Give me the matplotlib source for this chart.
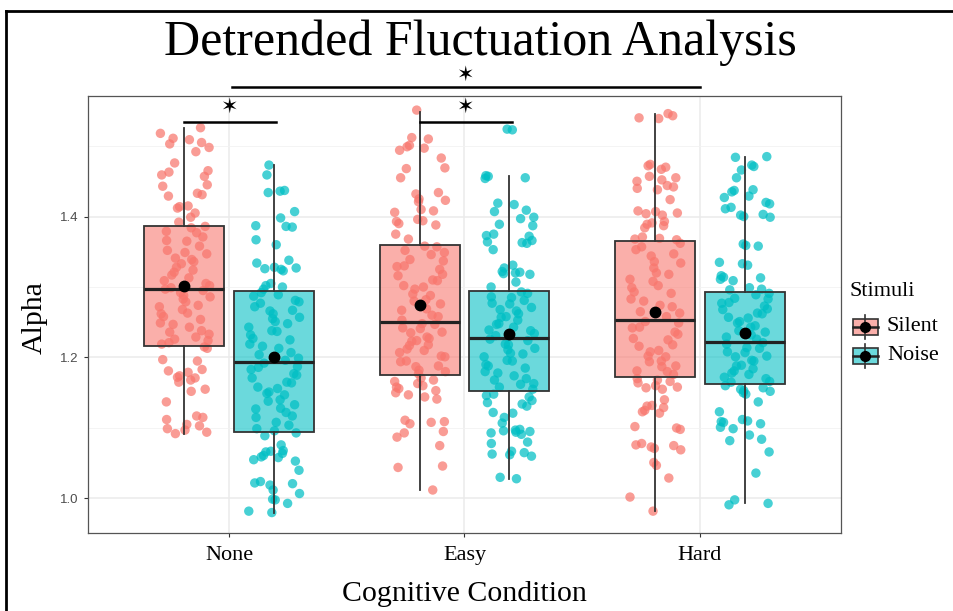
import matplotlib
matplotlib.use("Agg")
import matplotlib.pyplot as plt
from matplotlib.colors import to_rgba
from matplotlib.patches import Rectangle
import numpy as np

# ---- data ----
conditions = ["None", "Easy", "Hard"]
stimuli = ["Silent", "Noise"]
colors = {"Silent": "#F8766D", "Noise": "#00BFC4"}

none_silent = [1.526, 1.518, 1.511, 1.509, 1.505, 1.503, 1.498, 1.492, 1.476, 1.465, 1.463, 1.459,
               1.457, 1.445, 1.443, 1.433, 1.431, 1.429, 1.415, 1.414, 1.412, 1.405, 1.399, 1.392,
               1.386, 1.384, 1.379, 1.377, 1.371, 1.366, 1.365, 1.358, 1.352, 1.349, 1.347, 1.341,
               1.339, 1.336, 1.333, 1.328, 1.324, 1.321, 1.317, 1.313, 1.309, 1.305, 1.302, 1.299,
               1.297, 1.295, 1.292, 1.288, 1.286, 1.283, 1.279, 1.274, 1.272, 1.268, 1.263, 1.262,
               1.258, 1.254, 1.249, 1.247, 1.243, 1.238, 1.236, 1.233, 1.229, 1.226, 1.224, 1.221,
               1.219, 1.215, 1.213, 1.197, 1.195, 1.183, 1.181, 1.179, 1.174, 1.172, 1.171, 1.168,
               1.165, 1.155, 1.152, 1.137, 1.117, 1.115, 1.112, 1.105, 1.103, 1.099, 1.097, 1.094,
               1.092]
none_noise = [1.473, 1.459, 1.437, 1.436, 1.434, 1.407, 1.398, 1.387, 1.386, 1.385, 1.367, 1.360,
              1.338, 1.334, 1.328, 1.327, 1.326, 1.325, 1.323, 1.305, 1.302, 1.300, 1.297, 1.292,
              1.289, 1.287, 1.281, 1.279, 1.277, 1.272, 1.267, 1.266, 1.262, 1.257, 1.255, 1.251,
              1.248, 1.243, 1.238, 1.237, 1.232, 1.227, 1.225, 1.219, 1.216, 1.213, 1.207, 1.204,
              1.199, 1.196, 1.192, 1.187, 1.186, 1.183, 1.177, 1.175, 1.171, 1.165, 1.164, 1.158,
              1.156, 1.151, 1.149, 1.147, 1.140, 1.138, 1.133, 1.128, 1.127, 1.122, 1.117, 1.115,
              1.108, 1.104, 1.099, 1.096, 1.093, 1.089, 1.076, 1.068, 1.067, 1.066, 1.064, 1.061,
              1.059, 1.058, 1.055, 1.053, 1.040, 1.024, 1.022, 1.021, 1.019, 1.012, 1.007, 0.999,
              0.998, 0.993, 0.982, 0.980]
easy_silent = [1.551, 1.512, 1.510, 1.501, 1.499, 1.497, 1.494, 1.483, 1.469, 1.468, 1.455, 1.434,
               1.432, 1.425, 1.423, 1.421, 1.410, 1.408, 1.406, 1.396, 1.394, 1.393, 1.390, 1.388,
               1.375, 1.368, 1.358, 1.357, 1.352, 1.349, 1.346, 1.339, 1.337, 1.330, 1.329, 1.325,
               1.318, 1.316, 1.310, 1.309, 1.302, 1.300, 1.297, 1.290, 1.288, 1.282, 1.280, 1.276,
               1.269, 1.267, 1.260, 1.258, 1.253, 1.248, 1.247, 1.242, 1.241, 1.236, 1.235, 1.229,
               1.227, 1.224, 1.223, 1.218, 1.217, 1.212, 1.210, 1.207, 1.202, 1.201, 1.195, 1.194,
               1.188, 1.187, 1.182, 1.180, 1.177, 1.171, 1.168, 1.166, 1.163, 1.160, 1.158, 1.156,
               1.153, 1.150, 1.147, 1.144, 1.141, 1.111, 1.109, 1.108, 1.106, 1.095, 1.093, 1.087,
               1.075, 1.046, 1.044, 1.012]
easy_noise = [1.524, 1.523, 1.458, 1.457, 1.455, 1.454, 1.419, 1.417, 1.409, 1.407, 1.399, 1.397,
              1.389, 1.387, 1.375, 1.373, 1.372, 1.366, 1.364, 1.363, 1.362, 1.353, 1.331, 1.327,
              1.322, 1.321, 1.320, 1.319, 1.318, 1.307, 1.300, 1.293, 1.291, 1.286, 1.285, 1.281,
              1.277, 1.276, 1.271, 1.268, 1.266, 1.262, 1.258, 1.257, 1.253, 1.248, 1.247, 1.243,
              1.239, 1.238, 1.234, 1.231, 1.226, 1.224, 1.219, 1.218, 1.213, 1.211, 1.206, 1.205,
              1.201, 1.196, 1.195, 1.190, 1.188, 1.185, 1.180, 1.178, 1.174, 1.170, 1.168, 1.163,
              1.162, 1.158, 1.155, 1.148, 1.146, 1.144, 1.139, 1.136, 1.134, 1.131, 1.122, 1.121,
              1.115, 1.107, 1.098, 1.097, 1.096, 1.095, 1.094, 1.093, 1.091, 1.080, 1.078, 1.067,
              1.065, 1.063, 1.062, 1.060, 1.030, 1.028]
hard_silent = [1.546, 1.543, 1.540, 1.539, 1.474, 1.472, 1.470, 1.467, 1.457, 1.455, 1.452, 1.450,
               1.444, 1.442, 1.440, 1.438, 1.424, 1.408, 1.407, 1.405, 1.404, 1.402, 1.393, 1.391,
               1.389, 1.387, 1.384, 1.371, 1.369, 1.368, 1.367, 1.362, 1.357, 1.353, 1.347, 1.344,
               1.336, 1.334, 1.327, 1.320, 1.318, 1.311, 1.308, 1.302, 1.299, 1.293, 1.291, 1.283,
               1.280, 1.274, 1.272, 1.265, 1.263, 1.258, 1.251, 1.249, 1.243, 1.242, 1.236, 1.233,
               1.227, 1.225, 1.218, 1.216, 1.210, 1.208, 1.202, 1.201, 1.195, 1.194, 1.188, 1.187,
               1.181, 1.180, 1.176, 1.170, 1.168, 1.166, 1.164, 1.160, 1.158, 1.157, 1.155, 1.140,
               1.132, 1.131, 1.129, 1.125, 1.123, 1.121, 1.102, 1.100, 1.098, 1.078, 1.076, 1.075,
               1.073, 1.071, 1.069, 1.051, 1.047, 1.029, 1.002, 0.982]
hard_noise = [1.485, 1.484, 1.473, 1.471, 1.466, 1.455, 1.438, 1.437, 1.435, 1.429, 1.427, 1.420,
              1.418, 1.413, 1.411, 1.403, 1.402, 1.400, 1.399, 1.361, 1.359, 1.358, 1.335, 1.333,
              1.331, 1.316, 1.314, 1.313, 1.311, 1.309, 1.299, 1.297, 1.296, 1.291, 1.289, 1.284,
              1.283, 1.278, 1.277, 1.273, 1.269, 1.268, 1.263, 1.262, 1.257, 1.256, 1.251, 1.249,
              1.245, 1.243, 1.238, 1.236, 1.232, 1.229, 1.226, 1.221, 1.219, 1.214, 1.213, 1.208,
              1.207, 1.202, 1.201, 1.196, 1.195, 1.189, 1.188, 1.184, 1.181, 1.178, 1.176, 1.172,
              1.170, 1.166, 1.165, 1.160, 1.157, 1.155, 1.153, 1.152, 1.150, 1.148, 1.137, 1.123,
              1.112, 1.110, 1.109, 1.108, 1.106, 1.101, 1.099, 1.090, 1.084, 1.082, 1.066, 1.036,
              0.998, 0.993, 0.991]

points = {("None", "Silent"): none_silent, ("None", "Noise"): none_noise,
          ("Easy", "Silent"): easy_silent, ("Easy", "Noise"): easy_noise,
          ("Hard", "Silent"): hard_silent, ("Hard", "Noise"): hard_noise}

# box stats (None-S, None-N, Easy-S, Easy-N, Hard-S, Hard-N)
q1 = [1.216, 1.095, 1.175, 1.153, 1.172, 1.163]
med = [1.297, 1.194, 1.250, 1.228, 1.253, 1.222]
q3 = [1.387, 1.294, 1.360, 1.295, 1.365, 1.293]
whislo = [1.092, 0.979, 1.012, 1.028, 0.982, 0.993]
whishi = [1.526, 1.473, 1.549, 1.457, 1.546, 1.485]
means = [1.301, 1.200, 1.275, 1.233, 1.265, 1.235]

# jitter pattern (fraction of jitter half-width)
jitter = [0.62, -0.35, 0.91, -0.78, 0.14, -0.05, 0.47, -0.93, 0.28, -0.60, 0.83, -0.19, 0.05, 0.71,
          -0.44, 0.36, -0.88, 0.97, -0.27, 0.53, -0.69, 0.19, -0.12, 0.77, -0.52, 0.41, -0.97, 0.09,
          0.66, -0.31, 0.88, -0.74, 0.24, -0.08, 0.58, -0.57, 0.33, -0.84, 0.72, -0.22, 0.12, -0.66,
          0.95, -0.40, 0.50, -0.15, 0.80, -0.90, 0.02, 0.44, -0.49, 0.68, -0.03, 0.26, -0.81, 0.86,
          -0.38, 0.17, -0.62, 0.99, -0.70]

serif = "Liberation Serif"
sans = "Liberation Sans"

fig = plt.figure(figsize=(9.54, 6.11), dpi=100)
ax = fig.add_axes([88 / 954, 1 - 533 / 611, (841 - 88) / 954, (533 - 96) / 611])

dodge = 0.19
box_w = 0.34
jit_w = 0.11

stats = []
positions = []
facecols = []
k = 0
for i, cond in enumerate(conditions):
    for j, stim in enumerate(stimuli):
        pos = i + 1 + (-dodge if stim == "Silent" else dodge)
        ys = np.array(points[(cond, stim)])
        xs = pos + jit_w * np.array([jitter[(n * 7 + k * 11) % len(jitter)] for n in range(len(ys))])
        ax.scatter(xs, ys, s=46, color=colors[stim], alpha=0.72, edgecolors="none", zorder=2)
        stats.append(dict(q1=q1[k], med=med[k], q3=q3[k], whislo=whislo[k], whishi=whishi[k],
                          mean=means[k], fliers=[]))
        positions.append(pos)
        facecols.append(to_rgba(colors[stim], 0.58))
        k += 1

bp = ax.bxp(stats, positions=positions, widths=box_w, patch_artist=True, showcaps=False,
            showfliers=False, showmeans=True, zorder=3,
            boxprops=dict(edgecolor="#333333", linewidth=1.3),
            whiskerprops=dict(color="#333333", linewidth=1.3),
            medianprops=dict(color="#222222", linewidth=2.3),
            meanprops=dict(marker="o", markerfacecolor="black", markeredgecolor="black",
                           markersize=7.5))
for patch, fc in zip(bp["boxes"], facecols):
    patch.set_facecolor(fc)

# axes styling (ggplot theme_bw look)
ax.set_xlim(0.4, 3.6)
ax.set_ylim(0.951, 1.571)
ax.set_yticks([1.0, 1.2, 1.4])
ax.set_yticklabels(["1.0", "1.2", "1.4"], family=sans, fontsize=9.5, color="#4D4D4D")
ax.set_yticks([1.1, 1.3, 1.5], minor=True)
ax.set_xticks([1, 2, 3])
ax.set_xticklabels(conditions, family=serif, fontsize=16, color="black")
ax.tick_params(axis="both", which="major", length=3, width=0.8, color="#333333")
ax.tick_params(axis="y", pad=4)
ax.tick_params(axis="x", pad=6.5)
ax.tick_params(axis="y", which="minor", length=0)
ax.grid(True, which="major", color="#EBEBEB", linewidth=1.1, zorder=0)
ax.grid(True, which="minor", axis="y", color="#F2F2F2", linewidth=0.6, zorder=0)
ax.set_axisbelow(True)
for sp in ax.spines.values():
    sp.set_color("#555555")
    sp.set_linewidth(0.9)

# significance bars
ax.plot([1 - dodge, 1 + dodge + 0.01], [1.534, 1.534], color="black", lw=1.8, clip_on=False, zorder=5)
ax.plot([2 - dodge, 2 + dodge + 0.01], [1.534, 1.534], color="black", lw=1.8, clip_on=False, zorder=5)
ax.plot([1.013, 3.0], [1.584, 1.584], color="black", lw=1.8, clip_on=False, zorder=5)
for sx, sy in [(1.0, 1.556), (2.0, 1.556), (2.0, 1.601)]:
    ax.text(sx, sy, "\u2736", ha="center", va="center", fontsize=15, family="DejaVu Sans",
            clip_on=False, zorder=5)

# overlay in pixel coordinates for titles, legend and frame
lax = fig.add_axes([0, 0, 1, 1], zorder=10)
lax.set_xlim(0, 954)
lax.set_ylim(611, 0)
lax.axis("off")
lax.patch.set_alpha(0)

lax.plot([6, 6], [11, 611], color="black", lw=2)
lax.plot([6, 954], [11, 11], color="black", lw=2)

lax.text(480, 55, "Detrended Fluctuation Analysis", ha="center", va="baseline",
         family=serif, fontsize=36)
lax.text(464, 601, "Cognitive Condition", ha="center", va="baseline", family=serif, fontsize=21.5)
lax.text(35, 318, "Alpha", ha="center", va="center", rotation=90, family=serif, fontsize=21.5)

# legend
lax.text(850, 292, "Stimuli", ha="left", va="center", family=serif, fontsize=16)
for stim, yc in zip(stimuli, [326.5, 355.5]):
    x0 = 853
    lax.plot([x0 + 12.5, x0 + 12.5], [yc - 12, yc + 12], color="#333333", lw=1.2)
    lax.add_patch(Rectangle((x0, yc - 8), 25, 16, facecolor=to_rgba(colors[stim], 0.58),
                            edgecolor="#333333", lw=1.2))
    lax.plot([x0, x0 + 25], [yc, yc], color="#222222", lw=1.8)
    lax.plot([x0 + 12.5], [yc], marker="o", color="black", markersize=7)
    lax.text(887, yc, stim, ha="left", va="center", family=serif, fontsize=16)

fig.savefig("out.png", dpi=100)
